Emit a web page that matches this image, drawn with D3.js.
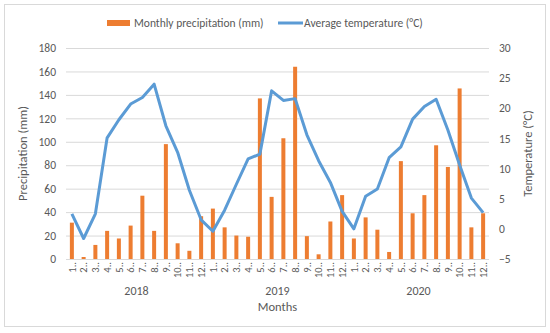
<!DOCTYPE html>
<html><head><meta charset="utf-8">
<script src="https://cdn.jsdelivr.net/npm/d3@7"></script>
<style>body{margin:0;background:#fff}svg{display:block}text{font-family:Calibri,Carlito,"Liberation Sans",Arial,sans-serif;fill:#595959}</style>
</head><body><svg id="c" width="550" height="333"></svg>
<script>
const years = ["2018","2019","2020"];
const months = ["1","2","3","4","5","6","7","8","9","10","11","12"];
const precipitation = [31,1.7,12,24,17.5,28.5,54,24,98,13.4,7,36.5,
  43,27,20,19,137,53,103,164,19.5,4,32,54.5,
  17.5,35.5,25,6,83.5,39,54.5,97,78.5,145.5,27,39];
const temperature = [2.5,-1.6,2.5,15.1,18.1,20.7,21.8,24.0,17.1,12.7,6.4,1.5,
  -0.4,3.1,7.4,11.6,12.4,22.9,21.3,21.6,15.6,11.3,7.7,2.9,
  0.0,5.4,6.6,11.8,13.6,18.2,20.3,21.5,16.4,10.6,5.1,2.7];
const leftTicks = [0,20,40,60,80,100,120,140,160,180];
const rightTicks = [-5,0,5,10,15,20,25,30];

const cats = [];
years.forEach(y=>months.forEach(m=>cats.push(y+"-"+m)));

const svg = d3.select("#c");
const L=66,R=489,T=48,B=259;
svg.append("rect").attr("x",4.5).attr("y",4.5).attr("width",541).attr("height",322)
  .attr("fill","#fff").attr("stroke","#d9d9d9");

const x = d3.scaleBand().domain(cats).range([L,R]);
const yL = d3.scaleLinear().domain([0,180]).range([B,T]);
const yR = d3.scaleLinear().domain([-5,30]).range([B,T]);

// gridlines
svg.append("g").selectAll("line").data(leftTicks).join("line")
  .attr("x1",L).attr("x2",R).attr("y1",d=>yL(d)+0.5).attr("y2",d=>yL(d)+0.5)
  .attr("stroke","#d9d9d9").attr("stroke-width",1);

// left axis
const gl = svg.append("g").attr("transform",`translate(${L},0)`)
  .call(d3.axisLeft(yL).tickValues(leftTicks).tickSize(0).tickPadding(10));
gl.select(".domain").remove();
gl.selectAll("text").attr("font-size",11.5).style("fill","#595959");

const gr = svg.append("g").attr("transform",`translate(${R},0)`)
  .call(d3.axisRight(yR).tickValues(rightTicks).tickSize(0).tickPadding(10).tickFormat(d=>d<0?"−"+Math.abs(d):d));
gr.select(".domain").remove();
gr.selectAll("text").attr("font-size",11.5).style("fill","#595959");

// bars
const bw = 4;
svg.append("g").selectAll("rect").data(precipitation).join("rect")
  .attr("x",(d,i)=>x(cats[i])+x.bandwidth()/2-bw/2)
  .attr("width",bw)
  .attr("y",d=>yL(d)).attr("height",d=>yL(0)-yL(d))
  .attr("fill","#ed7d31");

// line
const line = d3.line().x((d,i)=>x(cats[i])+x.bandwidth()/2).y(d=>yR(d));
svg.append("path").datum(temperature).attr("d",line)
  .attr("fill","none").attr("stroke","#5b9bd5").attr("stroke-width",3).attr("stroke-linejoin","round");

// x category labels
const gx = svg.append("g").attr("transform",`translate(0,${B})`)
  .call(d3.axisBottom(x).tickSize(0).tickPadding(0).tickFormat(d=>d.split("-")[1]+".."));
gx.select(".domain").remove();
gx.selectAll("text").attr("font-size",10.5).style("fill","#595959")
  .attr("text-anchor","end").attr("dy","0.35em")
  .attr("transform","translate(0,3) rotate(-90)").attr("x",0).attr("y",0);

// year labels
svg.append("g").selectAll("text").data(years).join("text")
  .attr("x",(d,i)=>(x(d+"-1")+x(d+"-12")+x.bandwidth())/2).attr("y",295)
  .attr("text-anchor","middle").attr("font-size",12).text(d=>d);

svg.append("text").attr("x",(L+R)/2).attr("y",311).attr("text-anchor","middle")
  .attr("font-size",12.5).text("Months");

svg.append("text").attr("transform",`translate(27,${(T+B)/2}) rotate(-90)`)
  .attr("text-anchor","middle").attr("font-size",12.5).text("Precipitation (mm)");
svg.append("text").attr("transform",`translate(532,${(T+B)/2}) rotate(-90)`)
  .attr("text-anchor","middle").attr("font-size",12.5).text("Temperature (°C)");

// legend
const lg = svg.append("g");
lg.append("rect").attr("x",107).attr("y",20).attr("width",23).attr("height",6).attr("fill","#ed7d31");
lg.append("text").attr("x",134).attr("y",27).attr("font-size",11.5).text("Monthly precipitation (mm)");
lg.append("line").attr("x1",278).attr("x2",303).attr("y1",23).attr("y2",23).attr("stroke","#5b9bd5").attr("stroke-width",3);
lg.append("text").attr("x",304).attr("y",27).attr("font-size",11.5).text("Average temperature (°C)");
</script></body></html>
